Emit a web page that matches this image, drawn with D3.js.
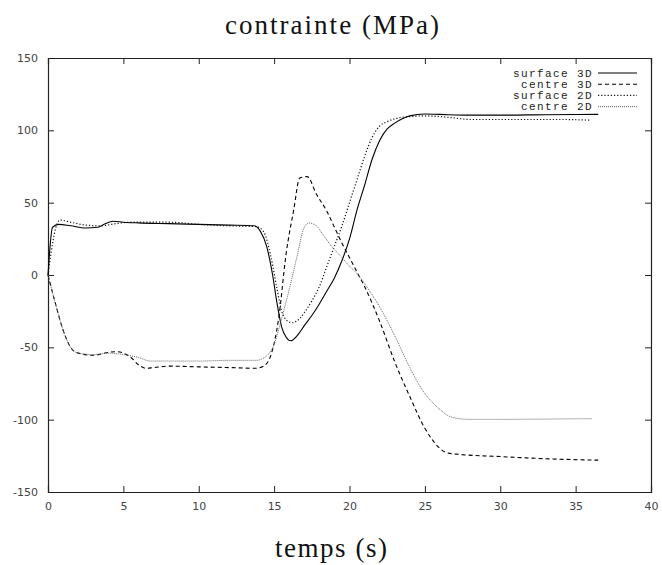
<!DOCTYPE html>
<html lang="fr">
<head>
<meta charset="utf-8">
<title>contrainte (MPa)</title>
<script src="https://d3js.org/d3.v7.min.js"></script>
<style>
  body { margin: 0; background: #fff; }
  .tick text { font-family: "DejaVu Sans", sans-serif; font-size: 11px; fill: #444; }
  .legend text { font-family: "Liberation Mono", "DejaVu Sans Mono", monospace; font-size: 11px; letter-spacing: 1.4px; fill: #222; }
  .title { font-family: "Liberation Serif", "DejaVu Serif", serif; font-size: 27px; fill: #111; }
</style>
</head>
<body>
<script>
// axis ticks
const xTicks = [0, 5, 10, 15, 20, 25, 30, 35, 40];
const yTicks = [-150, -100, -50, 0, 50, 100, 150];

// series: [temps (s), contrainte (MPa)]
const surface3D = [
  [0, 0], [0.3, 33], [0.7, 35], [1.5, 34], [2.5, 32.5], [3.3, 33], [3.8, 35.5], [4.3, 37.2],
  [5, 36.5], [6, 36], [8, 35.5], [10, 35], [12, 34.5], [13.7, 34], [14.1, 30], [14.5, 20],
  [14.9, 0], [15.2, -20], [15.5, -36], [15.8, -43], [16.1, -45.5], [16.6, -41], [17, -35],
  [17.5, -28], [18, -20], [18.5, -11], [19, -2], [19.5, 10], [20, 25], [20.5, 45], [21, 62],
  [21.5, 80], [22, 93], [22.5, 101], [23, 105], [23.5, 108], [24, 110], [25, 111.3],
  [26, 111], [28, 110.5], [30, 110.5], [33, 110.8], [36.5, 111]
];
const centre3D = [
  [0, 0], [0.5, -20], [1, -38], [1.5, -50], [2, -54], [3, -55.5], [4, -53.5], [4.5, -53],
  [5, -54], [5.5, -57], [6, -62], [6.5, -64.5], [7, -64], [8, -63], [10, -63.5], [12, -64],
  [13.8, -64.5], [14.3, -63], [14.8, -55], [15.3, -30], [15.8, 15], [16.3, 45], [16.7, 67],
  [17.2, 68], [17.8, 56], [18.5, 44], [19, 33], [19.5, 22], [20, 12], [20.5, 2], [21, -8],
  [22, -32], [23, -60], [24, -84], [25, -106], [25.5, -114], [26, -120], [26.5, -123],
  [27.3, -124], [30, -125.5], [33, -127], [36.5, -128]
];
const surface2D = [
  [0, 0], [0.2, 15], [0.5, 32], [0.8, 38], [1.5, 36.5], [2.5, 34.5], [3.5, 34], [4.5, 35.5],
  [5.5, 36.5], [7, 36.5], [8, 36.5], [10, 35], [12, 34], [13.8, 33.5], [14.3, 30], [14.8, 12],
  [15.2, -10], [15.5, -25], [15.8, -31], [16.2, -33], [16.7, -30], [17, -26], [17.5, -18],
  [18, -8], [18.5, 6], [19, 20], [19.5, 34], [20, 50], [20.5, 66], [21, 82], [21.5, 95],
  [22, 103], [22.5, 106], [23, 108], [24, 109.5], [25, 110], [26, 109.5], [27, 108.5],
  [28, 107.5], [30, 107.5], [32, 107.5], [34, 107.5], [36, 107]
];
const centre2D = [
  [0, 0], [0.5, -20], [1, -38], [1.5, -50], [2, -54], [3, -55], [4, -54], [5, -55], [6, -57],
  [6.8, -59.5], [8, -59.5], [10, -59.5], [12, -59], [13.8, -59], [14.5, -56], [15, -48],
  [15.5, -30], [16, -10], [16.5, 12], [17, 33], [17.3, 36], [17.8, 34], [18.3, 27], [18.8, 20],
  [19.5, 12], [20, 6], [20.5, 1], [21, -6], [22, -22], [23, -42], [24, -64], [25, -82],
  [25.5, -88], [26, -93], [26.5, -97], [27.1, -99], [28, -99.8], [30, -99.8], [33, -99.6], [36.1, -99.3]
];

const seriesNames = ["surface 3D", "centre 3D", "surface 2D", "centre 2D"];
const seriesData = [surface3D, centre3D, surface2D, centre2D];
const seriesStyle = [
  { stroke: "#000", dash: null, width: 1.1 },
  { stroke: "#000", dash: "4,3", width: 1.1 },
  { stroke: "#111", dash: "1.2,2", width: 1.2 },
  { stroke: "#666", dash: "1,1", width: 1 }
];

const width = 662, height = 565;
const mLeft = 48, mRight = 651, mTop = 58, mBottom = 492;

const svg = d3.select("body").append("svg")
  .attr("width", width)
  .attr("height", height);

const x = d3.scaleLinear().domain([0, 40]).range([mLeft, mRight]);
const y = d3.scaleLinear().domain([-150, 150]).range([mBottom, mTop]);

// Axes (ticks pointing inward, as in gnuplot)
const fmt = d => String(d);
svg.append("g").attr("transform", `translate(0,${mBottom})`)
  .call(d3.axisBottom(x).tickValues(xTicks).tickSize(-6).tickPadding(10).tickFormat(fmt));
svg.append("g").attr("transform", `translate(0,${mTop})`)
  .call(d3.axisTop(x).tickValues(xTicks).tickSize(-6).tickFormat(""));
svg.append("g").attr("transform", `translate(${mLeft},0)`)
  .call(d3.axisLeft(y).tickValues(yTicks).tickSize(-6).tickPadding(10).tickFormat(fmt));
svg.append("g").attr("transform", `translate(${mRight},0)`)
  .call(d3.axisRight(y).tickValues(yTicks).tickSize(-6).tickFormat(""));

svg.selectAll(".domain").attr("stroke", "#222").attr("stroke-width", 1.2);
svg.selectAll(".tick line").attr("stroke", "#222");

// Lines
const line = d3.line()
  .x(d => x(d[0]))
  .y(d => y(d[1]))
  .curve(d3.curveMonotoneX);

svg.append("g").selectAll("path")
  .data(seriesData)
  .join("path")
  .attr("fill", "none")
  .attr("d", line)
  .attr("stroke", (d, i) => seriesStyle[i].stroke)
  .attr("stroke-width", (d, i) => seriesStyle[i].width)
  .attr("stroke-dasharray", (d, i) => seriesStyle[i].dash);

// Legend
const legend = svg.append("g").attr("class", "legend");
seriesNames.forEach((name, i) => {
  const ly = 73 + i * 11.2;
  legend.append("text")
    .attr("x", 593).attr("y", ly).attr("dy", "0.32em")
    .attr("text-anchor", "end")
    .text(name);
  legend.append("line")
    .attr("x1", 598).attr("x2", 637).attr("y1", ly).attr("y2", ly)
    .attr("stroke", seriesStyle[i].stroke)
    .attr("stroke-width", seriesStyle[i].width)
    .attr("stroke-dasharray", seriesStyle[i].dash);
});

// Titles
svg.append("text")
  .attr("class", "title")
  .attr("x", 332).attr("y", 34)
  .attr("text-anchor", "middle")
  .attr("textLength", 214)
  .attr("lengthAdjust", "spacing")
  .text("contrainte (MPa)");

svg.append("text")
  .attr("class", "title")
  .attr("x", 331).attr("y", 557)
  .attr("text-anchor", "middle")
  .attr("textLength", 112)
  .attr("lengthAdjust", "spacing")
  .text("temps (s)");
</script>
</body>
</html>
